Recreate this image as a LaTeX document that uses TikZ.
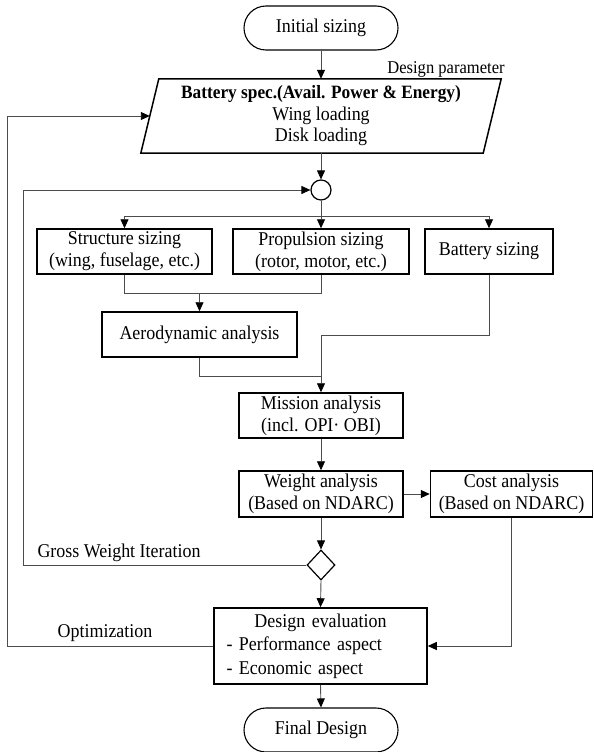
\documentclass[tikz,border=0pt]{standalone}
\usepackage{fontspec}
\setmainfont[FakeStretch=0.92]{Liberation Serif}
\usetikzlibrary{arrows.meta,shapes.geometric,calc}
\begin{document}
\begin{tikzpicture}[x=1pt,y=-1pt,
  every node/.style={font=\fontsize{19.5}{22}\selectfont, text=black},
  box/.style={draw=black, line width=1.5pt, rectangle, inner sep=0pt, align=center},
  term/.style={draw=black, line width=1.1pt, rectangle, rounded corners=22pt, minimum width=154pt, minimum height=44pt, inner sep=0pt},
  conn/.style={draw=black!70, line width=0.9pt},
  arr/.style={conn, -{Triangle[length=9pt,width=8pt,color=black]}},
  lbl/.style={inner sep=0pt}
]
\useasboundingbox (0,0) rectangle (594,752);

% nodes
\node[term] (init) at (321,28) {Initial sizing};
\node[minimum width=342pt, minimum height=74pt, inner sep=0pt, align=center, font=\fontsize{19.5}{21.5}\selectfont] (bat) at (321,116)
  {{\bfseries\fontsize{18.8}{21.5}\selectfont Battery spec.(Avail. Power \& Energy)}\\Wing loading\\Disk loading};
\draw[draw=black, line width=1.5pt] ($(bat.north west)+(9,0)$) -- ($(bat.north east)+(9,0)$) -- ($(bat.south east)+(-9,0)$) -- ($(bat.south west)+(-9,0)$) -- cycle;
\node[lbl, font=\fontsize{18}{20}\selectfont] (dp) at (446,69) {Design parameter};

\node[circle, draw=black, line width=1.2pt, minimum size=20pt, inner sep=0pt] (circ) at (321,190) {};
\coordinate (br) at (321,216);

\node[box, minimum width=175pt, minimum height=45pt] (str) at (124.5,251.5) {Structure sizing\\(wing, fuselage, etc.)};
\node[box, minimum width=176pt, minimum height=45pt] (prop) at (321,251.5) {Propulsion sizing\\(rotor, motor, etc.)};
\node[box, minimum width=128pt, minimum height=45pt] (bsz) at (489,251.5) {Battery sizing};
\node[box, minimum width=195pt, minimum height=45pt] (aero) at (199.5,334.5) {Aerodynamic analysis};
\node[box, minimum width=164pt, minimum height=45pt] (mis) at (321,415.5) {Mission analysis\\(incl. OPI· OBI)};
\node[box, minimum width=164pt, minimum height=46pt] (wt) at (321,494) {Weight analysis\\(Based on NDARC)};
\node[box, minimum width=162pt, minimum height=46pt] (cost) at (511.5,494) {Cost analysis\\(Based on NDARC)};
\node[diamond, draw=black, line width=1.2pt, minimum width=28pt, minimum height=30pt, inner sep=0pt] (dia) at (321,565) {};
\node[box, minimum width=213pt, minimum height=76pt, text width=188pt, align=left, font=\fontsize{19.5}{23.5}\selectfont] (ev) at (320.5,646)
  {\makebox[188pt]{Design evaluation}\\- Performance aspect\\- Economic aspect};
\node[term] (fin) at (321,730) {Final Design};

\node[lbl] (gwi) at (119,553) {Gross Weight Iteration};
\node[lbl] (opt) at (105,633) {Optimization};

% connectors
\draw[arr] (init.south) -- (bat.north);
\draw[arr] (bat.south) -- (circ.north);
\draw[conn] (circ.south) -- (br);
\draw[arr] (br) -- (prop.north);
\draw[arr] (br) -| (str.north);
\draw[arr] (br) -| (bsz.north);
\coordinate (j1) at (199.5,293);
\draw[conn] (str.south) |- (j1);
\draw[conn] (prop.south) |- (j1);
\draw[arr] (j1) -- (aero.north);
\coordinate (j2) at (321,335);
\draw[arr] (bsz.south) |- (j2) -- (mis.north);
\coordinate (j3) at (321,376);
\draw[conn] (aero.south) |- (j3);
\draw[arr] (mis.south) -- (wt.north);
\draw[arr] (wt.east) -- (cost.west);
\draw[arr] (wt.south) -- (dia.north);
\coordinate (gL) at (23.5,565);
\draw[arr] (dia.west) -- (gL) |- (circ.west);
\draw[arr] (dia.south) -- (ev.north);
\draw[arr] (cost.south) |- (ev.east);
\coordinate (oL) at (7.6,646);
\draw[arr] (ev.west) -- (oL) |- (bat.west);
\draw[arr] (ev.south) -- (fin.north);
\end{tikzpicture}
\end{document}
